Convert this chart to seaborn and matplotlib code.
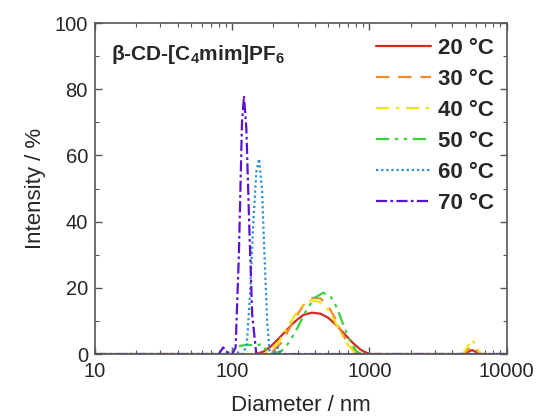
import matplotlib
matplotlib.use('Agg')
import matplotlib.pyplot as plt
import seaborn as sns
import pandas as pd

sns.set_style("ticks")
plt.rcParams['font.family'] = ['Liberation Sans', 'DejaVu Sans']
plt.rcParams['mathtext.fontset'] = 'custom'
plt.rcParams['mathtext.rm'] = 'Liberation Sans'
plt.rcParams['mathtext.bf'] = 'Liberation Sans:bold'

# --- dados ---
d_20 = [10, 150, 170, 190, 220, 250, 290, 330, 380, 440, 500, 580, 660, 760, 870, 1000,
        4800, 5200, 5600, 6000, 6500, 10000]
i_20 = [0, 0, 0.8, 2.2, 4.8, 7.3, 10.0, 11.8, 12.5, 12.2, 11.0, 8.6, 6.0, 3.3, 1.2, 0,
        0, 0.6, 1.2, 0.6, 0, 0]

d_30 = [10, 180, 200, 230, 260, 300, 340, 390, 440, 500, 560, 620, 700, 780, 860,
        4800, 5200, 5600, 6000, 6500, 10000]
i_30 = [0, 0, 1.0, 3.5, 7.5, 12.0, 15.5, 17.0, 16.8, 14.5, 11.0, 7.0, 3.0, 0.8, 0,
        0, 1.2, 2.5, 1.2, 0, 0]

d_40 = [10, 170, 190, 220, 250, 290, 330, 380, 430, 490, 550, 610, 690, 770, 850,
        4800, 5200, 5600, 6000, 6500, 10000]
i_40 = [0, 0, 1.0, 3.8, 7.8, 12.0, 15.0, 16.2, 15.8, 13.8, 10.5, 6.8, 3.0, 0.8, 0,
        0, 2.2, 4.5, 2.2, 0, 0]

d_50 = [10, 95, 105, 115, 130, 150, 165, 180, 200, 230, 260, 300, 350, 400, 460, 520,
        580, 650, 720, 800, 870, 10000]
i_50 = [0, 0, 1.5, 2.5, 2.8, 2.6, 3.0, 0.8, 0, 1.0, 3.5, 8.0, 13.5, 17.0, 18.5, 17.5,
        14.0, 8.5, 4.0, 1.0, 0, 0]

d_60 = [10, 90, 100, 110, 120, 128, 135, 142, 150, 157, 165, 172, 180, 188, 200, 215,
        230, 250, 10000]
i_60 = [0, 0, 1.0, 0.5, 0, 3, 18, 38, 55, 59, 50, 30, 10, 0, 0, 2.0, 0, 0, 0]

d_70 = [10, 80, 86, 92, 100, 106, 112, 118, 122, 127, 133, 140, 150, 10000]
i_70 = [0, 0, 2, 0.5, 0, 2, 30, 70, 78, 68, 40, 12, 0, 0]

temperaturas = ['20 °C', '30 °C', '40 °C', '50 °C', '60 °C', '70 °C']
diametros = [d_20, d_30, d_40, d_50, d_60, d_70]
intensidades = [i_20, i_30, i_40, i_50, i_60, i_70]

cores = ['#D42A20', '#F08A30', '#F2E21A', '#3CD23C', '#2A8FD8', '#5A14D0']
tracos = [None, (6, 4), (6, 3, 1.5, 3), (6, 2.5, 1.5, 2.5, 1.5, 2.5), (1, 1.3), (5, 1.5, 1.2, 1.5)]

df = pd.concat([
    pd.DataFrame({'d': d, 'i': i, 'T': t})
    for d, i, t in zip(diametros, intensidades, temperaturas)
], ignore_index=True)

fig = plt.figure(figsize=(5.39, 4.19), dpi=100)
ax = fig.add_axes([0.176, 0.155, 0.764, 0.79])

for t, c, ds in zip(temperaturas, cores, tracos):
    sub = df[df['T'] == t]
    sns.lineplot(data=sub, x='d', y='i', ax=ax, color=c, lw=1.6, label=t,
                 estimator=None, sort=False)
    if ds is not None:
        ax.lines[-1].set_dashes(ds)

ax.set_xscale('log')
ax.set_xlim(10, 10000)
ax.set_ylim(0, 100)
ax.set_yticks([0, 20, 40, 60, 80, 100])
ax.set_yticks([10, 30, 50, 70, 90], minor=True)
ax.set_xticks([10, 100, 1000, 10000])
ax.set_xticklabels(['10', '100', '1000', '10000'])

ax.tick_params(which='both', direction='in', top=True, right=True, labelsize=14.5,
               color='#555555')
ax.tick_params(which='major', length=5, width=1)
ax.tick_params(which='minor', length=3, width=0.8)
ax.tick_params(axis='x', which='both', pad=6)
ax.tick_params(axis='y', which='both', pad=5)
for s in ax.spines.values():
    s.set_color('#555555')
    s.set_linewidth(1.2)

ax.set_xlabel('Diameter / nm', fontsize=16, labelpad=10)
ax.set_ylabel('Intensity / %', fontsize=16, labelpad=6)

ax.text(0.039, 0.906, r'β-CD-[C$_\mathbf{4}$mim]PF$_\mathbf{6}$', transform=ax.transAxes,
        fontsize=15, fontweight='bold', va='center', ha='left')

leg = ax.legend(loc='upper right', bbox_to_anchor=(0.985, 0.975), frameon=False,
                handlelength=2.5, handletextpad=0.3, labelspacing=0.45,
                borderaxespad=0, borderpad=0.3,
                prop={'size': 16, 'weight': 'bold'})

plt.savefig('out.png', dpi=100)
